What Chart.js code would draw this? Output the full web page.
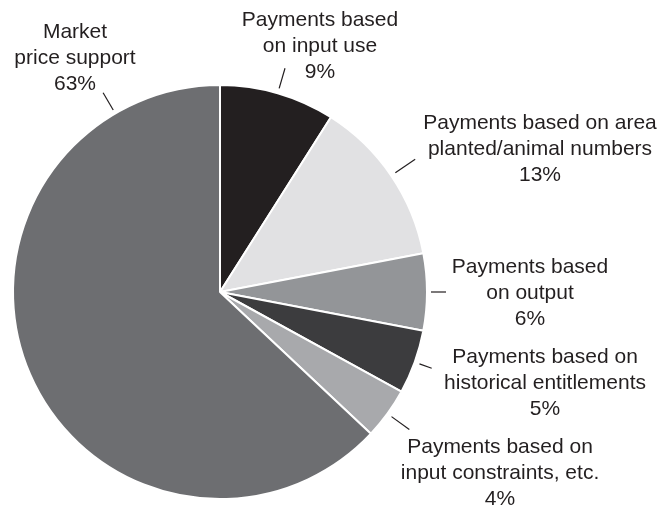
<!DOCTYPE html>
<html>
<head>
<meta charset="utf-8">
<script src="https://cdn.jsdelivr.net/npm/chart.js@4/dist/chart.umd.min.js"></script>
<style>
  html, body { margin: 0; padding: 0; background: #fff; }
  canvas { display: block; }
</style>
</head>
<body>
<canvas id="pie" width="660" height="506"></canvas>
<script>
// data, clockwise from 12 o'clock
const categories = [
    ['Payments based', 'on input use'],
    ['Payments based on area', 'planted/animal numbers'],
    ['Payments based', 'on output'],
    ['Payments based on', 'historical entitlements'],
    ['Payments based on', 'input constraints, etc.'],
    ['Market', 'price support']
];
const shares = [9, 13, 6, 5, 4, 63];

const sliceColors = ['#231f20', '#e1e1e3', '#939598', '#3c3c3e', '#a8a9ac', '#6d6e71'];

// label placement: centre of text block, leader line radii, optional angle override (deg from top)
const labelLayout = [
    { x: 320, y: 20,  r0: 5, r1: 26 },
    { x: 540, y: 123, r0: 5, r1: 29 },
    { x: 530, y: 267, r0: 4, r1: 19 },
    { x: 545, y: 357, r0: 5, r1: 18 },
    { x: 500, y: 447, r0: 5, r1: 27 },
    { x: 75,  y: 32,  r0: 4, r1: 24, angle: 329.6 }
];

const TEXT = '#231f20';
const LINE_H = 26;

const pieLabels = {
    id: 'pieLabels',
    afterDraw(chart) {
        const ctx = chart.ctx;
        const arcs = chart.getDatasetMeta(0).data;
        ctx.save();
        ctx.fillStyle = TEXT;
        ctx.strokeStyle = TEXT;
        ctx.lineWidth = 1.2;
        ctx.font = '21px "Liberation Sans", Arial, sans-serif';
        ctx.textAlign = 'center';
        ctx.textBaseline = 'middle';
        arcs.forEach((arc, i) => {
            const { x, y, startAngle, endAngle, outerRadius } = arc.getProps(['x', 'y', 'startAngle', 'endAngle', 'outerRadius'], true);
            const lay = labelLayout[i];
            const a = lay.angle !== undefined
                ? (lay.angle - 90) * Math.PI / 180
                : (startAngle + endAngle) / 2;
            const ra = outerRadius + lay.r0, rb = outerRadius + lay.r1;
            ctx.beginPath();
            ctx.moveTo(x + ra * Math.cos(a), y + ra * Math.sin(a));
            ctx.lineTo(x + rb * Math.cos(a), y + rb * Math.sin(a));
            ctx.stroke();

            const lines = categories[i].concat([shares[i] + '%']);
            lines.forEach((t, k) => ctx.fillText(t, lay.x, lay.y + k * LINE_H));
        });
        ctx.restore();
    }
};

new Chart(document.getElementById('pie'), {
    type: 'pie',
    data: {
        labels: categories.map(c => c.join(' ')),
        datasets: [{
            data: shares,
            backgroundColor: sliceColors,
            borderColor: '#ffffff',
            borderWidth: 2
        }]
    },
    options: {
        responsive: false,
        animation: false,
        layout: { padding: { left: 12, right: 232, top: 84, bottom: 6 } },
        plugins: {
            legend: { display: false },
            tooltip: { enabled: false }
        }
    },
    plugins: [pieLabels]
});
</script>
</body>
</html>
